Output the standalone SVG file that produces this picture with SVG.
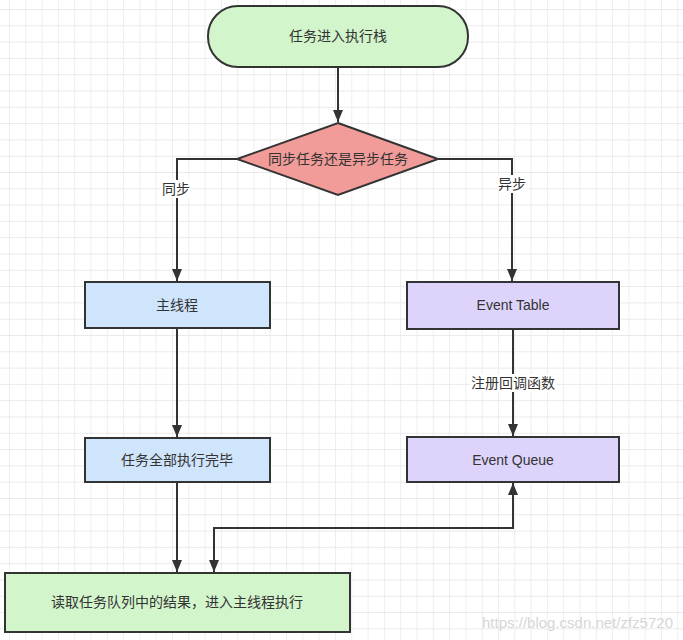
<svg xmlns="http://www.w3.org/2000/svg" width="683" height="640" viewBox="0 0 683 640">
<style>
.n{stroke:#333;stroke-width:2}
.t{font-family:"Liberation Sans","Noto Sans CJK SC",sans-serif;font-size:14px;fill:#333;text-anchor:middle;dominant-baseline:central}
.c{fill:none;stroke:#333;stroke-width:2}
.lbl{font-family:"Liberation Sans","Noto Sans CJK SC",sans-serif;font-size:14px;fill:#333;text-anchor:middle;dominant-baseline:central}
</style>
<defs>
<pattern id="grid" x="9" y="9" width="16.3" height="16.3" patternUnits="userSpaceOnUse">
<path d="M0 0H16.3M0 0V16.3" fill="none" stroke="#e4e4e4" stroke-width="1.2"/>
</pattern>
<marker id="ah" viewBox="0 0 12 12" refX="12" refY="6" markerWidth="12" markerHeight="12" markerUnits="userSpaceOnUse" orient="auto-start-reverse">
<path d="M0 1L12 6L0 11Z" fill="#333"/>
</marker>
</defs>
<rect width="683" height="640" fill="#fff"/>
<rect width="683" height="640" fill="url(#grid)"/>
<g id="connectors">
<path class="c" d="M338 67V122" marker-end="url(#ah)"/>
<path class="c" d="M237 159H177V281" marker-end="url(#ah)"/>
<path class="c" d="M438 159H512V281" marker-end="url(#ah)"/>
<path class="c" d="M177 328V437" marker-end="url(#ah)"/>
<path class="c" d="M513 329V436" marker-end="url(#ah)"/>
<path class="c" d="M177 482V572" marker-end="url(#ah)"/>
<path class="c" d="M214 572V528H513V483" marker-start="url(#ah)" marker-end="url(#ah)"/>
<rect x="161" y="180" width="30" height="18" fill="#fff"/>
<text class="lbl" x="176" y="189">同步</text>
<rect x="497" y="175" width="30" height="18" fill="#fff"/>
<text class="lbl" x="512" y="184">异步</text>
<rect x="470" y="374" width="86" height="18" fill="#fff"/>
<text class="lbl" x="513" y="383">注册回调函数</text>
</g>
<g id="start">
<rect class="n" x="208" y="6" width="260" height="61" rx="30" ry="30" fill="#d2f5cc"/>
<text class="t" x="338" y="36">任务进入执行栈</text>
</g>
<g id="decision">
<path class="n" d="M338 123L438 159L338 195L237 159Z" fill="#f19c99"/>
<text class="t" x="338" y="159">同步任务还是异步任务</text>
</g>
<g id="main-thread">
<rect class="n" x="85" y="282" width="185" height="46" fill="#cfe5fb"/>
<text class="t" x="177" y="305">主线程</text>
</g>
<g id="event-table">
<rect class="n" x="407" y="282" width="212" height="47" fill="#ddd3fb"/>
<text class="t" x="513" y="305">Event Table</text>
</g>
<g id="tasks-done">
<rect class="n" x="85" y="438" width="185" height="44" fill="#cfe5fb"/>
<text class="t" x="177" y="460">任务全部执行完毕</text>
</g>
<g id="event-queue">
<rect class="n" x="407" y="437" width="212" height="45" fill="#ddd3fb"/>
<text class="t" x="513" y="460">Event Queue</text>
</g>
<g id="read-queue">
<rect class="n" x="5" y="573" width="345" height="59" fill="#d2f5cc"/>
<text class="t" x="177" y="602">读取任务队列中的结果，进入主线程执行</text>
</g>
<text x="673" y="622" font-family="Liberation Sans, sans-serif" font-size="15" fill="#d6d6d6" text-anchor="end" dominant-baseline="central">https://blog.csdn.net/zfz5720</text>
</svg>
